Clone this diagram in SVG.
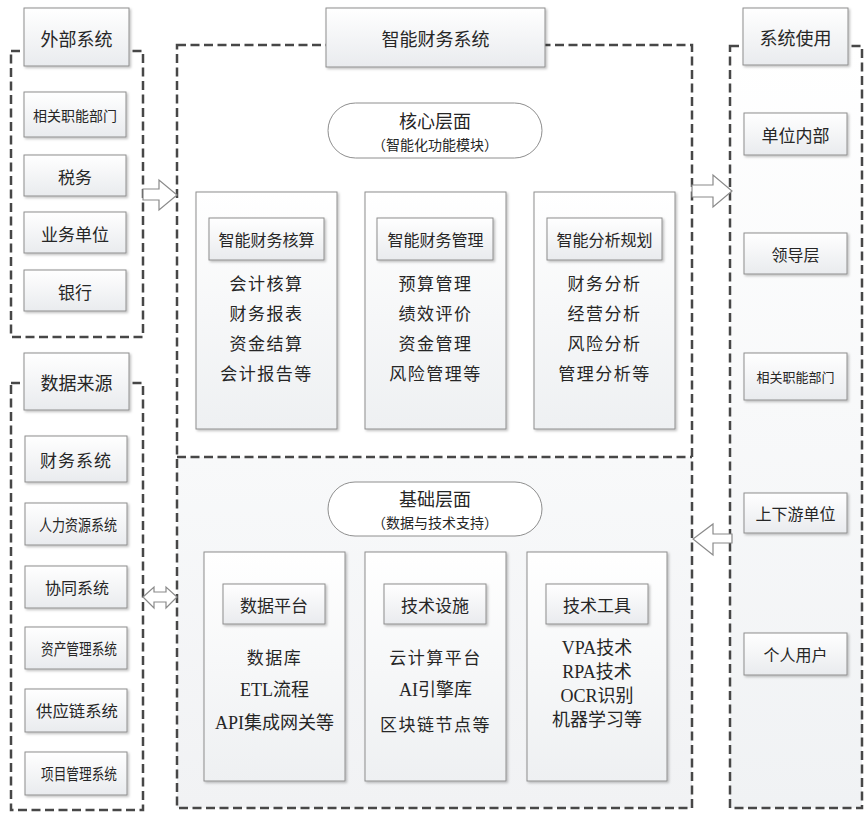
<svg xmlns="http://www.w3.org/2000/svg" width="864" height="813" viewBox="0 0 864 813">
<defs>
<linearGradient id="g" x1="0" y1="0" x2="0" y2="1"><stop offset="0" stop-color="#ffffff"/><stop offset="1" stop-color="#e9ebee"/></linearGradient>
<linearGradient id="gm" x1="0" y1="0" x2="0" y2="1"><stop offset="0" stop-color="#ffffff"/><stop offset="1" stop-color="#eef0f2"/></linearGradient>
<linearGradient id="gb" x1="0" y1="0" x2="0" y2="1"><stop offset="0" stop-color="#f8f9fa"/><stop offset="1" stop-color="#f1f2f4"/></linearGradient>
<linearGradient id="gr" x1="0" y1="0" x2="0" y2="1"><stop offset="0" stop-color="#ffffff"/><stop offset="1" stop-color="#f0f2f4"/></linearGradient>
<filter id="sh" x="-10%" y="-10%" width="130%" height="130%"><feDropShadow dx="1.5" dy="1.5" stdDeviation="1" flood-color="#000" flood-opacity="0.25"/></filter>
<style>
.dash{fill:none;stroke:#474747;stroke-width:2.5;stroke-dasharray:9 4.5}
.box{fill:url(#g);stroke:#8e8e8e;stroke-width:1;filter:url(#sh)}
.mod{fill:url(#gm);stroke:#8e8e8e;stroke-width:1;filter:url(#sh)}
.pill{fill:#fff;stroke:#8e8e8e;stroke-width:1}
.arr{fill:#fff;stroke:#8a8a8a;stroke-width:1.2}
text{font-family:"Noto Sans CJK SC",sans-serif;fill:#262626;text-anchor:middle;dominant-baseline:central}
.t18{font-size:18px}
.t17{font-size:17px}
.t16{font-size:16px}
.t14{font-size:14px}
.t13{font-size:13px}
.it{font-size:17px;letter-spacing:1.5px}
.lat{font-family:"Liberation Serif","Noto Sans CJK SC",serif;font-size:18px}
</style>
</defs>
<rect width="864" height="813" fill="#fff"/>

<g id="main-system">
<rect x="177" y="457" width="515" height="351" fill="url(#gb)"/>
<rect x="177" y="45" width="515" height="763" class="dash"/>
<line x1="177" y1="457" x2="692" y2="457" class="dash"/>
<rect x="326" y="8" width="219" height="59" class="box"/>
<text x="435.5" y="38" class="t18">智能财务系统</text>
</g>

<g id="core-layer">
<rect x="328" y="103" width="214" height="55" rx="27.5" class="pill"/>
<text x="435" y="120" class="t18">核心层面</text>
<text x="435" y="144" class="t14">（智能化功能模块）</text>
</g>

<g id="core-accounting">
<rect x="196" y="192" width="141" height="237" class="mod"/>
<rect x="209" y="218" width="115" height="42" class="box"/>
<text x="266.5" y="239" class="t16">智能财务核算</text>
<text x="266.5" y="282" class="it">会计核算</text>
<text x="266.5" y="312" class="it">财务报表</text>
<text x="266.5" y="342" class="it">资金结算</text>
<text x="266.5" y="372" class="it">会计报告等</text>
</g>

<g id="core-management">
<rect x="365" y="192" width="141" height="237" class="mod"/>
<rect x="377" y="218" width="116" height="42" class="box"/>
<text x="435.5" y="239" class="t16">智能财务管理</text>
<text x="435.5" y="282" class="it">预算管理</text>
<text x="435.5" y="312" class="it">绩效评价</text>
<text x="435.5" y="342" class="it">资金管理</text>
<text x="435.5" y="372" class="it">风险管理等</text>
</g>

<g id="core-planning">
<rect x="534" y="192" width="141" height="237" class="mod"/>
<rect x="547" y="218" width="115" height="42" class="box"/>
<text x="604.5" y="239" class="t16">智能分析规划</text>
<text x="604.5" y="282" class="it">财务分析</text>
<text x="604.5" y="312" class="it">经营分析</text>
<text x="604.5" y="342" class="it">风险分析</text>
<text x="604.5" y="372" class="it">管理分析等</text>
</g>

<g id="base-layer">
<rect x="328" y="482" width="214" height="54" rx="27" class="pill"/>
<text x="435" y="498" class="t18">基础层面</text>
<text x="435" y="522" class="t14">（数据与技术支持）</text>
</g>

<g id="base-data">
<rect x="204" y="552" width="141" height="229" class="mod"/>
<rect x="223" y="584" width="102" height="40" class="box"/>
<text x="274" y="604" class="t17">数据平台</text>
<text x="274.5" y="656" class="it">数据库</text>
<text x="274.5" y="690" class="lat">ETL流程</text>
<text x="274.5" y="723" class="lat">API集成网关等</text>
</g>

<g id="base-infra">
<rect x="365" y="552" width="141" height="229" class="mod"/>
<rect x="384" y="584" width="102" height="40" class="box"/>
<text x="435" y="604" class="t17">技术设施</text>
<text x="435.5" y="656" class="it">云计算平台</text>
<text x="435.5" y="690" class="lat">AI引擎库</text>
<text x="435.5" y="723" class="it">区块链节点等</text>
</g>

<g id="base-tools">
<rect x="527" y="552" width="140" height="229" class="mod"/>
<rect x="546" y="584" width="102" height="40" class="box"/>
<text x="597" y="604" class="t17">技术工具</text>
<text x="597" y="648" class="lat">VPA技术</text>
<text x="597" y="672" class="lat">RPA技术</text>
<text x="597" y="696" class="lat">OCR识别</text>
<text x="597" y="720" class="lat">机器学习等</text>
</g>

<g id="external">
<rect x="11" y="51" width="132" height="286" class="dash"/>
<rect x="24" y="8" width="105" height="58" class="box"/>
<text x="76.5" y="38" class="t18">外部系统</text>
<rect x="24" y="92" width="102" height="45" class="box"/>
<text x="75" y="115" class="t14">相关职能部门</text>
<rect x="24" y="155" width="102" height="41" class="box"/>
<text x="75" y="176" class="t17">税务</text>
<rect x="24" y="212" width="102" height="41" class="box"/>
<text x="75" y="233" class="t17">业务单位</text>
<rect x="24" y="270" width="102" height="41" class="box"/>
<text x="75" y="291" class="t17">银行</text>
</g>

<g id="data-source">
<rect x="11" y="383" width="132" height="427" class="dash"/>
<rect x="24" y="353" width="105" height="57" class="box"/>
<text x="76.5" y="382" class="t18">数据来源</text>
<rect x="25" y="436" width="102" height="46" class="box"/>
<text x="76" y="459" class="t17" letter-spacing="1">财务系统</text>
<rect x="25" y="503" width="102" height="42" class="box"/>
<text x="78" y="524" class="t16" textLength="78" lengthAdjust="spacingAndGlyphs">人力资源系统</text>
<rect x="25" y="566" width="102" height="42" class="box"/>
<text x="77" y="587" class="t16">协同系统</text>
<rect x="25" y="627" width="102" height="42" class="box"/>
<text x="79" y="648" class="t16" textLength="76" lengthAdjust="spacingAndGlyphs">资产管理系统</text>
<rect x="25" y="689" width="102" height="43" class="box"/>
<text x="77" y="710" class="t16" textLength="82" lengthAdjust="spacingAndGlyphs">供应链系统</text>
<rect x="25" y="752" width="102" height="43" class="box"/>
<text x="79" y="773" class="t16" textLength="76" lengthAdjust="spacingAndGlyphs">项目管理系统</text>
</g>

<g id="users">
<rect x="730" y="46" width="132" height="762" fill="url(#gr)"/>
<rect x="730" y="46" width="132" height="762" class="dash"/>
<rect x="743" y="8" width="105" height="57" class="box"/>
<text x="795.5" y="37" class="t18">系统使用</text>
<rect x="744" y="113" width="103" height="42" class="box"/>
<text x="795.5" y="134" class="t17">单位内部</text>
<rect x="744" y="233" width="103" height="41" class="box"/>
<text x="795.5" y="254" class="t16">领导层</text>
<rect x="744" y="353" width="103" height="47" class="box"/>
<text x="795.5" y="376" class="t13">相关职能部门</text>
<rect x="744" y="493" width="103" height="40" class="box"/>
<text x="795.5" y="513" class="t16">上下游单位</text>
<rect x="744" y="633" width="103" height="42" class="box"/>
<text x="795.5" y="654" class="t16">个人用户</text>
</g>

<g id="connectors">
<polygon class="arr" points="143,189 159,189 159,180 177,195 159,210 159,200 143,200"/>
<polygon class="arr" points="692,185 713,185 713,175 732,191 713,207 713,197 692,197"/>
<polygon class="arr" points="732,534 713,534 713,524 693,539 713,555 713,543 732,543"/>
<polygon class="arr" points="143,597 154,587 154,592 166,592 166,587 177,597 166,608 166,602 154,602 154,608"/>
</g>
</svg>
